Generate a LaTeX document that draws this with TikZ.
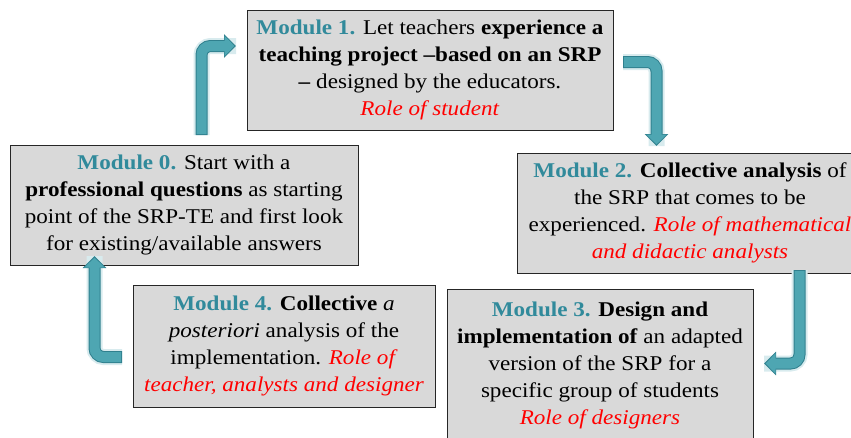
\documentclass[tikz,border=0pt]{standalone}
\usepackage{fontspec}
\setmainfont{Liberation Serif}[FakeStretch=1.1]
\usetikzlibrary{arrows.meta}
\definecolor{modteal}{RGB}{49,138,155}
\definecolor{arrfill}{RGB}{78,166,178}
\definecolor{arrline}{RGB}{48,128,142}
\definecolor{boxgray}{RGB}{217,217,217}
\newcommand{\mt}[1]{\textcolor{modteal}{\textbf{#1}}}
\newcommand{\rd}[1]{\textcolor{red}{\textit{#1}}}
\begin{document}
\begin{tikzpicture}[x=1pt,y=-1pt,
  modbox/.style={draw=black!85, line width=1pt, fill=boxgray, align=center,
    inner sep=0pt, font=\fontsize{21}{27}\selectfont},
  glow/.style={line width=16pt, draw=arrfill!22, rounded corners=9pt},
  outerarr/.style={line width=12pt, draw=arrline, rounded corners=9pt,
    -{Triangle[length=12pt,width=23pt]}},
  innerarr/.style={line width=10pt, draw=arrfill, rounded corners=9pt,
    shorten >=1.5pt, shorten <=1pt, -{Triangle[length=10pt,width=19.5pt]}}]
\useasboundingbox (0,0) rectangle (851,437);
\clip (0,0) rectangle (851,437);

\node[modbox, minimum width=366pt, minimum height=120pt] (m1) at (430,70)
  {\mt{Module 1.} Let teachers \textbf{experience a}\\
   \textbf{teaching project –based on an SRP}\\
   \textbf{–} designed by the educators.\\
   \rd{Role of student}};

\node[modbox, minimum width=348pt, minimum height=120pt] (m0) at (184,205)
  {\mt{Module 0.} Start with a\\
   \textbf{professional questions} as starting\\
   point of the SRP-TE and first look\\
   for existing/available answers};

\node[modbox, minimum width=346pt, minimum height=120pt] (m2) at (690,213)
  {\mt{Module 2.} \textbf{Collective analysis} of\\
   the SRP that comes to be\\
   experienced. \rd{Role of mathematical}\\
   \rd{and didactic analysts}};

\node[modbox, minimum width=302pt, minimum height=122pt] (m4) at (284,346)
  {\mt{Module 4.} \textbf{Collective} \textit{a}\\
   \textit{posteriori} analysis of the\\
   implementation. \rd{Role of}\\
   \rd{teacher, analysts and designer}};

\node[modbox, minimum width=306pt, minimum height=152pt] (m3) at (600,365)
  {\mt{Module 3.} \textbf{Design and}\\
   \textbf{implementation of} an adapted\\
   version of the SRP for a\\
   specific group of students\\
   \rd{Role of designers}};

% arrow end points
\coordinate (a0s) at (201.5,135);  \coordinate (a0e) at (236,46);
\coordinate (a1s) at (623,62);     \coordinate (a1e) at (656.5,146);
\coordinate (a2s) at (799.5,270);  \coordinate (a2e) at (764,363.5);
\coordinate (a3s) at (122,357);    \coordinate (a3e) at (94.5,256);

\foreach \s/\e/\k in {a0s/a0e/|-, a1s/a1e/-|, a2s/a2e/|-, a3s/a3e/-|}{
  \draw[glow] (\s) \k (\e);
}
\draw[outerarr] (a0s) |- (a0e);
\draw[innerarr] (a0s) |- (a0e);
\draw[outerarr] (a1s) -| (a1e);
\draw[innerarr] (a1s) -| (a1e);
\draw[outerarr] (a2s) |- (a2e);
\draw[innerarr] (a2s) |- (a2e);
\draw[outerarr] (a3s) -| (a3e);
\draw[innerarr] (a3s) -| (a3e);
\end{tikzpicture}
\end{document}
